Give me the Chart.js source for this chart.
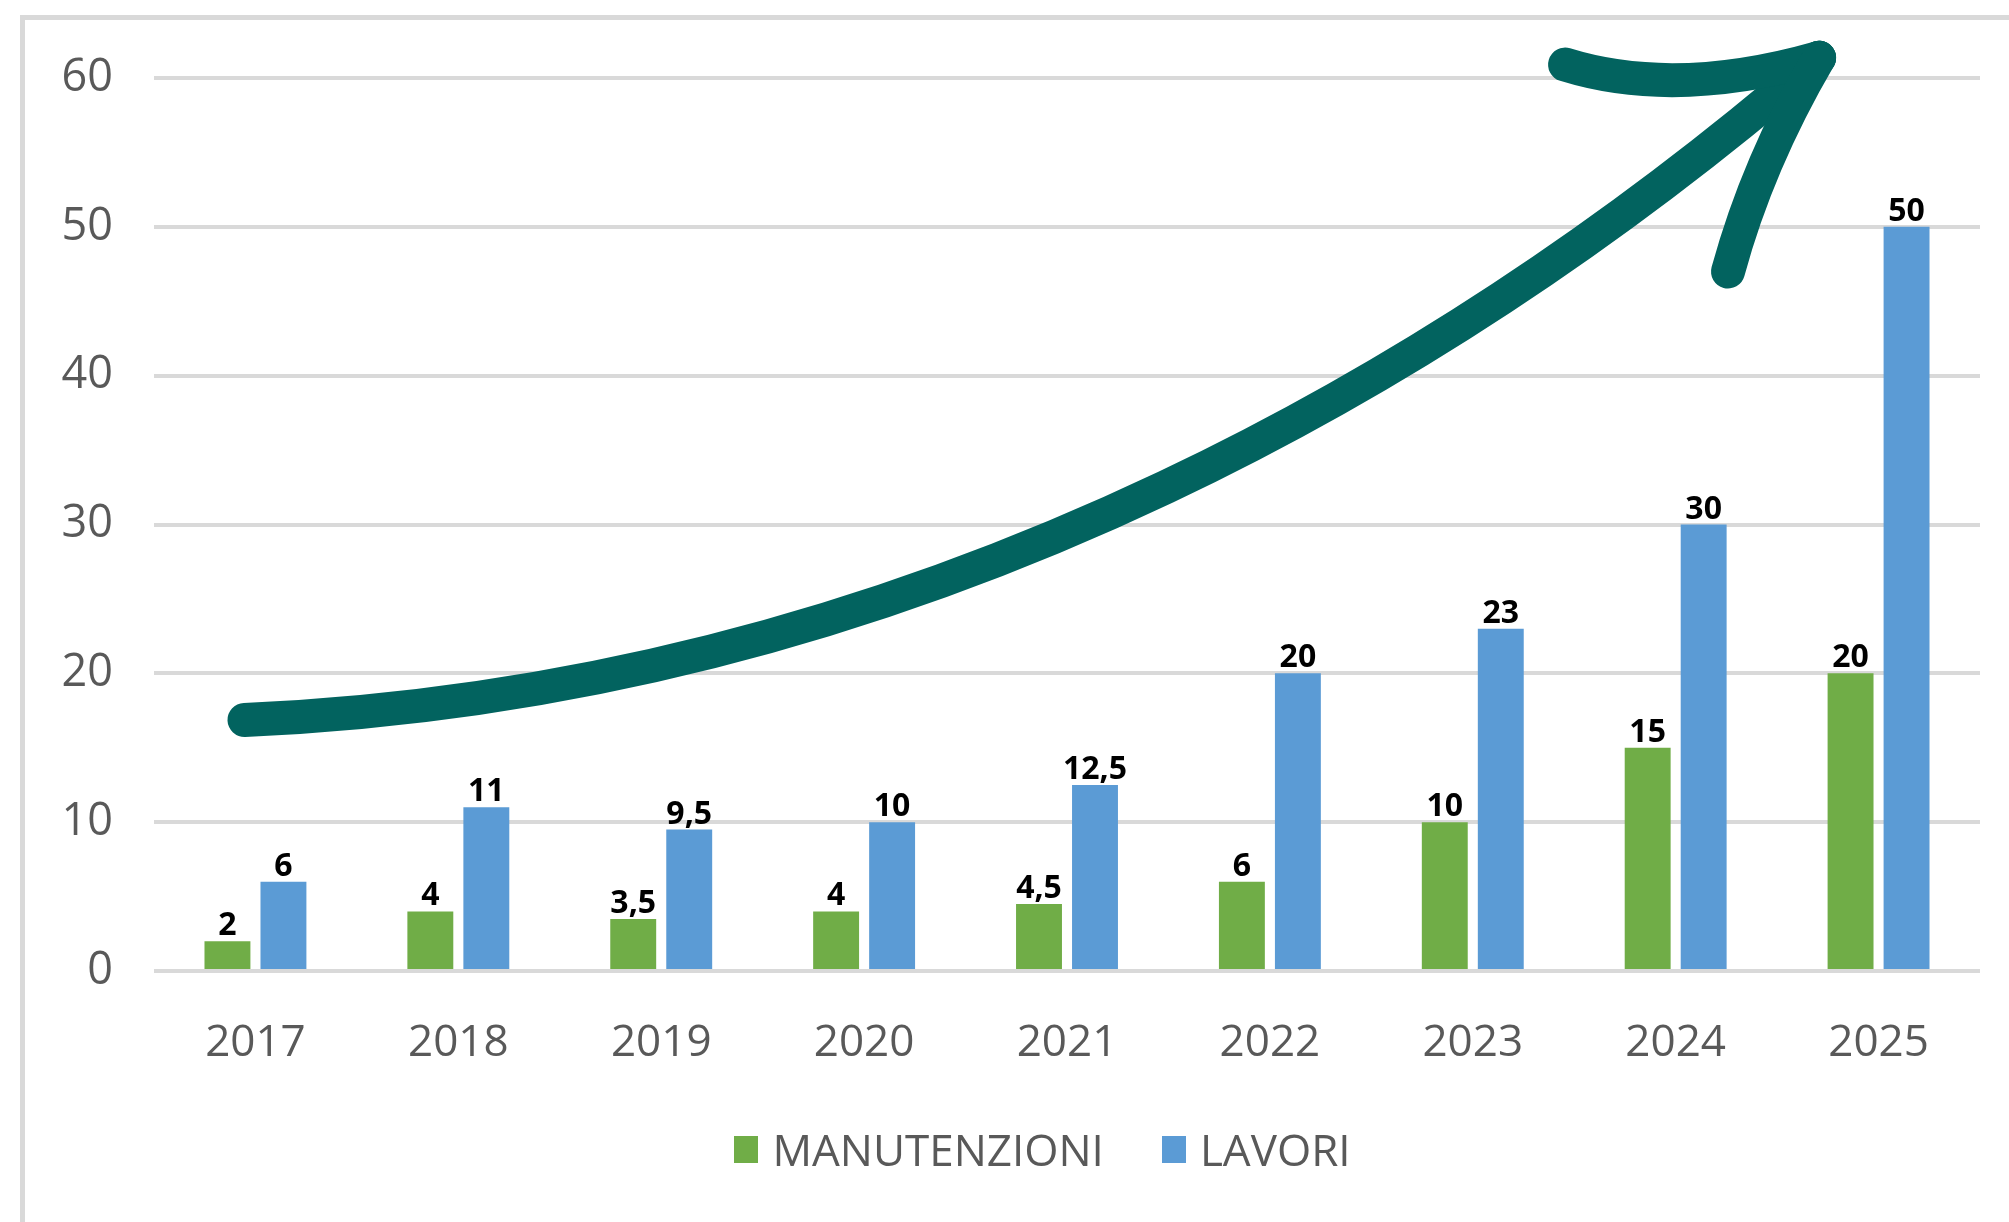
<!DOCTYPE html>
<html>
<head>
<meta charset="utf-8">
<script src="https://cdn.jsdelivr.net/npm/chart.js@4.4.1/dist/chart.umd.min.js"></script>
<style>
  html, body { margin: 0; padding: 0; background: #fff; overflow: hidden; }
  #wrap { position: relative; width: 2009px; height: 1222px; }
  #frame {
    position: absolute; left: 20px; top: 15px; right: 0; bottom: 0;
    border-top: 5px solid #d9d9d9; border-left: 5px solid #d9d9d9;
    pointer-events: none;
  }
  #legend {
    position: absolute; top: 1120px; left: 0; width: 2085px;
    display: flex; justify-content: center; align-items: center; gap: 58px;
    font: 44px 'Open Sans', sans-serif; color: #595959; line-height: 58px;
  }
  #legend .item { display: flex; align-items: center; }
  #legend .box { width: 24px; height: 27px; margin-right: 14px; }
</style>
</head>
<body>
<div id="wrap">
  <canvas id="chart" width="2009" height="1222"></canvas>
  <div id="legend"></div>
  <div id="frame"></div>
</div>
<script>
const years = ["2017", "2018", "2019", "2020", "2021", "2022", "2023", "2024", "2025"];
const manutenzioni = [2, 4, 3.5, 4, 4.5, 6, 10, 15, 20];
const lavori = [6, 11, 9.5, 10, 12.5, 20, 23, 30, 50];
const yTicks = [0, 10, 20, 30, 40, 50, 60];

Chart.defaults.font.family = "'Open Sans', sans-serif";
Chart.defaults.color = "#595959";

// value labels above bars, comma as decimal separator
const valueLabels = {
  id: "valueLabels",
  afterDatasetsDraw(chart) {
    const ctx = chart.ctx;
    ctx.save();
    ctx.font = "bold 32px 'Open Sans'";
    ctx.fillStyle = "#000";
    ctx.textAlign = "center";
    ctx.textBaseline = "alphabetic";
    chart.data.datasets.forEach((ds, i) => {
      chart.getDatasetMeta(i).data.forEach((bar, j) => {
        ctx.fillText(String(ds.data[j]).replace(".", ","), bar.x, bar.y - 6);
      });
    });
    ctx.restore();
  }
};

// hand-drawn trend arrow, points given as [category index, value]
const trendArrow = {
  id: "trendArrow",
  afterDraw(chart) {
    const { ctx, scales: { x, y } } = chart;
    const p = ([i, v]) => [x.getPixelForValue(i), y.getPixelForValue(v)];
    const tip = p([7.707, 61.36]);
    ctx.save();
    ctx.strokeStyle = "#02635f";
    ctx.lineWidth = 34;
    ctx.lineCap = "round";
    ctx.lineJoin = "round";

    let a = p([-0.054, 16.87]), b = p([3.378, 18.9]), c = p([6.035, 41.73]);
    ctx.beginPath();
    ctx.moveTo(a[0], a[1]);
    ctx.bezierCurveTo(b[0], b[1], c[0], c[1], tip[0], tip[1]);
    ctx.stroke();

    a = p([6.455, 60.9]); b = p([6.997, 58.6]);
    ctx.beginPath();
    ctx.moveTo(a[0], a[1]);
    ctx.quadraticCurveTo(b[0], b[1], tip[0], tip[1]);
    ctx.stroke();

    a = p([7.258, 47.0]); b = p([7.404, 54.3]);
    ctx.beginPath();
    ctx.moveTo(a[0], a[1]);
    ctx.quadraticCurveTo(b[0], b[1], tip[0], tip[1]);
    ctx.stroke();
    ctx.restore();
  }
};

const chart = new Chart(document.getElementById("chart"), {
  type: "bar",
  data: {
    labels: years,
    datasets: [
      {
        label: "MANUTENZIONI",
        data: manutenzioni,
        backgroundColor: "#70ad47",
        categoryPercentage: 0.552,
        barPercentage: 0.82
      },
      {
        label: "LAVORI",
        data: lavori,
        backgroundColor: "#5b9bd5",
        categoryPercentage: 0.552,
        barPercentage: 0.82
      }
    ]
  },
  options: {
    responsive: false,
    animation: false,
    layout: { padding: { top: 78, right: 29, bottom: 0, left: 0 } },
    plugins: {
      legend: { display: false },
      tooltip: { enabled: false }
    },
    scales: {
      x: {
        grid: { display: false, drawTicks: false },
        border: { display: false },
        ticks: { font: { size: 44 }, padding: 46, maxRotation: 0 },
        afterFit: s => { s.height = 251; }
      },
      y: {
        min: 0,
        max: 60,
        afterBuildTicks: s => { s.ticks = yTicks.map(v => ({ value: v })); },
        grid: { color: "#d9d9d9", lineWidth: 4, drawTicks: false },
        border: { display: false },
        ticks: { font: { size: 45 }, padding: 41 },
        afterFit: s => { s.width = 154; }
      }
    }
  },
  plugins: [valueLabels, trendArrow]
});

// html legend built from the datasets
const legendEl = document.getElementById("legend");
chart.data.datasets.forEach(ds => {
  const item = document.createElement("span");
  item.className = "item";
  const box = document.createElement("span");
  box.className = "box";
  box.style.background = ds.backgroundColor;
  item.appendChild(box);
  item.appendChild(document.createTextNode(ds.label));
  legendEl.appendChild(item);
});
</script>
</body>
</html>
